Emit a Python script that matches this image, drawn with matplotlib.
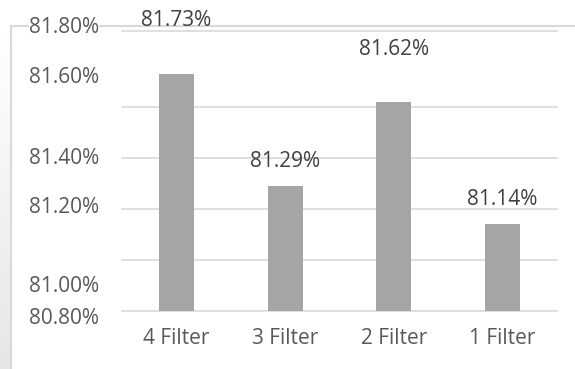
import numpy as np
import matplotlib.pyplot as plt
from matplotlib.lines import Line2D
from matplotlib.transforms import blended_transform_factory

plt.rcParams['font.family'] = ['Open Sans', 'DejaVu Sans']

# accuracy per filter setting (%)
categories = ['4 Filter', '3 Filter', '2 Filter', '1 Filter']
accuracy = [81.73, 81.29, 81.62, 81.14]

# axis labels as they were typed on the sheet
tick_labels = ['81.80%', '81.60%', '81.40%', '81.20%', '81.00%', '80.80%']
tick_label_y = [81.912, 81.718, 81.401, 81.205, 80.895, 80.771]
grid_values = [80.8, 81.0, 81.2, 81.4, 81.6]

# vertical offset (points) of each value label above its bar
label_offset = [39, 18, 38, 18]

fig = plt.figure(figsize=(5.75, 3.69), dpi=100)
ax = fig.add_axes([122 / 575, 1 - 311 / 369, 435 / 575, 280 / 369])

x = np.arange(len(categories))
ax.bar(x, accuracy, width=0.32, color='#a5a5a5', zorder=2)
ax.set_xlim(-0.5, len(categories) - 0.5)
ax.set_ylim(80.8, 81.9)

for g in grid_values + [81.9]:
    ax.axhline(g, color='#d9d9d9', lw=1.2, zorder=1, clip_on=False)

for s in ax.spines.values():
    s.set_visible(False)
ax.set_yticks([])
ax.set_xticks(x)
ax.set_xticklabels(categories, fontsize=15, color='#595959')
ax.tick_params(axis='x', length=0, pad=12)

trans = blended_transform_factory(ax.transAxes, ax.transData)
for lab, yv in zip(tick_labels, tick_label_y):
    ax.text(-0.053, yv, lab, transform=trans, ha='right', va='center',
            fontsize=15, color='#595959', clip_on=False,
            bbox=dict(facecolor='white', edgecolor='none', pad=0))

for xi, v, off in zip(x, accuracy, label_offset):
    ax.annotate(f'{v:.2f}%', (xi, v), xytext=(0, off), textcoords='offset points',
                ha='center', va='center', fontsize=15, color='#404040',
                annotation_clip=False)

# outer chart frame (behind the axes) and faint shadow on the left
fig.add_artist(Line2D([11 / 575, 11 / 575], [0, 1 - 26 / 369], zorder=-1,
                      transform=fig.transFigure, color='#d9d9d9', lw=1.5))
fig.add_artist(Line2D([11 / 575, 1], [1 - 26 / 369, 1 - 26 / 369], zorder=-1,
                      transform=fig.transFigure, color='#d9d9d9', lw=1.5))
shade = fig.add_axes([0, 0, 10 / 575, 1 - 20 / 369])
grad = np.linspace(0.9, 1.0, 50)[:, None]
shade.imshow(np.repeat(grad, 2, axis=1), cmap='gray', vmin=0, vmax=1,
             aspect='auto', extent=[0, 1, 0, 1], origin='lower')
shade.axis('off')

fig.savefig('out.png', dpi=100)
